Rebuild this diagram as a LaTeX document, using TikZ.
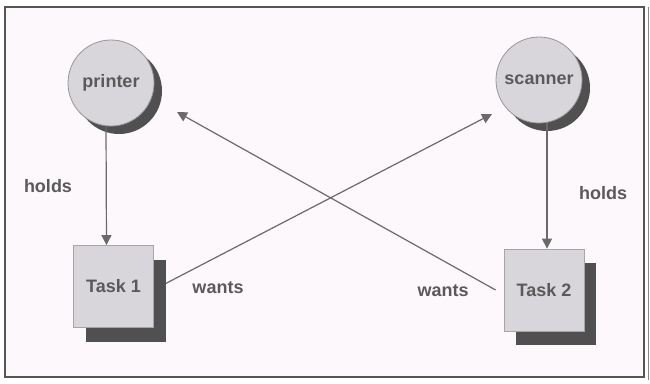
\documentclass[tikz,border=0pt]{standalone}
\usepackage{fontspec}
\setmainfont{Liberation Sans}
\usetikzlibrary{arrows.meta,shadows}
\definecolor{bgpink}{HTML}{FDF8FB}
\definecolor{framec}{HTML}{555555}
\definecolor{fillc}{HTML}{D9D6DB}
\definecolor{shadc}{HTML}{505050}
\definecolor{linec}{HTML}{6A6A6A}
\definecolor{textc}{HTML}{5A5A5A}
\begin{document}
\begin{tikzpicture}[x=1pt,y=-1pt,
  res/.style={circle,draw=linec!70,line width=0.8pt,fill=fillc,minimum size=86pt,inner sep=0pt,
    general shadow={shadow xshift=8pt,shadow yshift=-8pt,fill=shadc}},
  taskbox/.style={rectangle,draw=linec!60,line width=0.8pt,fill=fillc,minimum width=80pt,minimum height=82pt,inner sep=0pt,
    general shadow={shadow xshift=12pt,shadow yshift=-14pt,fill=shadc}},
  lbl/.style={text=textc,font=\bfseries\fontsize{18}{20}\selectfont,inner sep=0pt},
  conn/.style={draw=linec,line width=1.2pt,-{Triangle[length=10pt,width=10pt]}}]
\useasboundingbox (0,0) rectangle (650,383);
\fill[white] (0,0) rectangle (650,383);
\fill[bgpink] (5,7) rectangle (644,377);
\draw[framec,line width=2pt] (5,7) rectangle (644,377);
\draw[framec!70,line width=1pt] (648,7) -- (648,380);
% resources
\node[res,lbl] (printer) at (111,83) {printer};
\node[res,lbl] (scanner) at (539,80) {scanner};
% tasks
\node[taskbox,lbl] (task1) at (113.5,286.5) {Task 1};
\node[taskbox,lbl] (task2) at (544,290) {Task 2};
% invisible outline of task1's shadow, for anchoring
\node[minimum width=80pt,minimum height=82pt,inner sep=0pt] (t1s) at (125.5,300.5) {};
% holds arrows
\draw[conn] ([xshift=-5pt]printer.south) -- ([xshift=-7pt]task1.north);
\draw[conn] ([xshift=8pt]scanner.south) -- ([xshift=3pt]task2.north);
% wants arrows
\coordinate (tipS) at (492,114);
\coordinate (tipP) at (177,112);
\draw[conn] ([yshift=17pt]t1s.east) -- (tipS);
\draw[conn] ([xshift=-8pt]task2.west) -- (tipP);
% labels
\node[lbl] (h1) at (48,186) {holds};
\node[lbl] (h2) at (603,193) {holds};
\node[lbl] (w1) at (218,288) {wants};
\node[lbl] (w2) at (443,291) {wants};
\end{tikzpicture}
\end{document}
